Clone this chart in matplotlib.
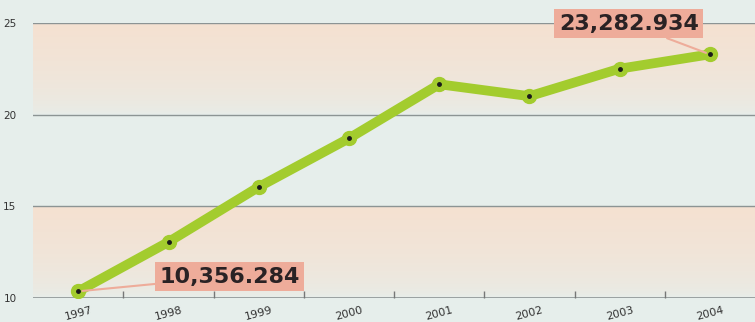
import matplotlib.pyplot as plt
import numpy as np
from matplotlib.colors import LinearSegmentedColormap

# data (millions)
years = [1997, 1998, 1999, 2000, 2001, 2002, 2003, 2004]
values = [10.356284, 13.05, 16.05, 18.7, 21.65, 21.0, 22.5, 23.282934]
first_label = "10,356.284"
last_label = "23,282.934"
y_ticks = [10, 15, 20, 25]

bg = "#e6eeeb"
peach = "#f5e1d1"
green = "#a3cc2e"
box = "#eeac9a"

fig = plt.figure(figsize=(7.55, 3.22), dpi=100, facecolor=bg)
ax = fig.add_axes([0.044, 0.075, 0.956, 0.854])
ax.set_facecolor(bg)
ax.set_xlim(1996.5, 2004.5)
ax.set_ylim(10, 25)

# shaded bands with a soft fade
cmap = LinearSegmentedColormap.from_list("band", [bg, peach])
grad = np.linspace(0, 1, 100).reshape(-1, 1)
for lo, hi in [(10, 15), (20, 25)]:
    ax.imshow(grad ** 0.5, cmap=cmap, aspect="auto", origin="lower",
              extent=[1996.5, 2004.5, lo, hi], zorder=0)

for y in y_ticks[1:]:
    ax.axhline(y, color="#8c9494", lw=1.0, zorder=1)
ax.axhline(10, color="#8c9494", lw=1.2, zorder=1)

for s in ax.spines.values():
    s.set_visible(False)

ax.plot(years, values, color=green, lw=7, solid_capstyle="round",
        solid_joinstyle="round", zorder=3)
ax.plot(years, values, "o", ms=10, color=green, zorder=4)
ax.plot(years, values, "o", ms=2.5, color="#1a1a1a", zorder=5)

# year ticks between the points
ax.set_xticks(years)
ax.set_xticklabels([str(y) for y in years], rotation=15, fontsize=8,
                   color="#333333")
ax.set_xticks(np.array(years[:-1]) + 0.5, minor=True)
ax.tick_params(axis="x", which="major", length=0, pad=5)
ax.tick_params(axis="x", which="minor", length=5, width=1, color="#777777",
               direction="in")
ax.set_yticks(y_ticks)
ax.set_yticklabels([str(y) for y in y_ticks], fontsize=7.5, color="#333333")
ax.tick_params(axis="y", length=0, pad=12)

bbox = dict(boxstyle="square,pad=0.2", fc=box, ec="none")
ax.annotate(first_label, xy=(years[0], values[0]), xytext=(1997.9, 11.15),
            fontsize=16, fontweight="bold", color="#2a2224", va="center",
            ha="left", bbox=bbox, annotation_clip=False,
            arrowprops=dict(arrowstyle="-", color=box, lw=1.5,
                            shrinkA=0, shrinkB=3), zorder=6)
ax.annotate(last_label, xy=(years[-1], values[-1]), xytext=(2003.1, 24.95),
            fontsize=16, fontweight="bold", color="#2a2224", va="center",
            ha="center", bbox=bbox, annotation_clip=False,
            arrowprops=dict(arrowstyle="-", color=box, lw=1.5,
                            shrinkA=0, shrinkB=3), zorder=6)

fig.savefig("out.png", dpi=100, facecolor=bg)
